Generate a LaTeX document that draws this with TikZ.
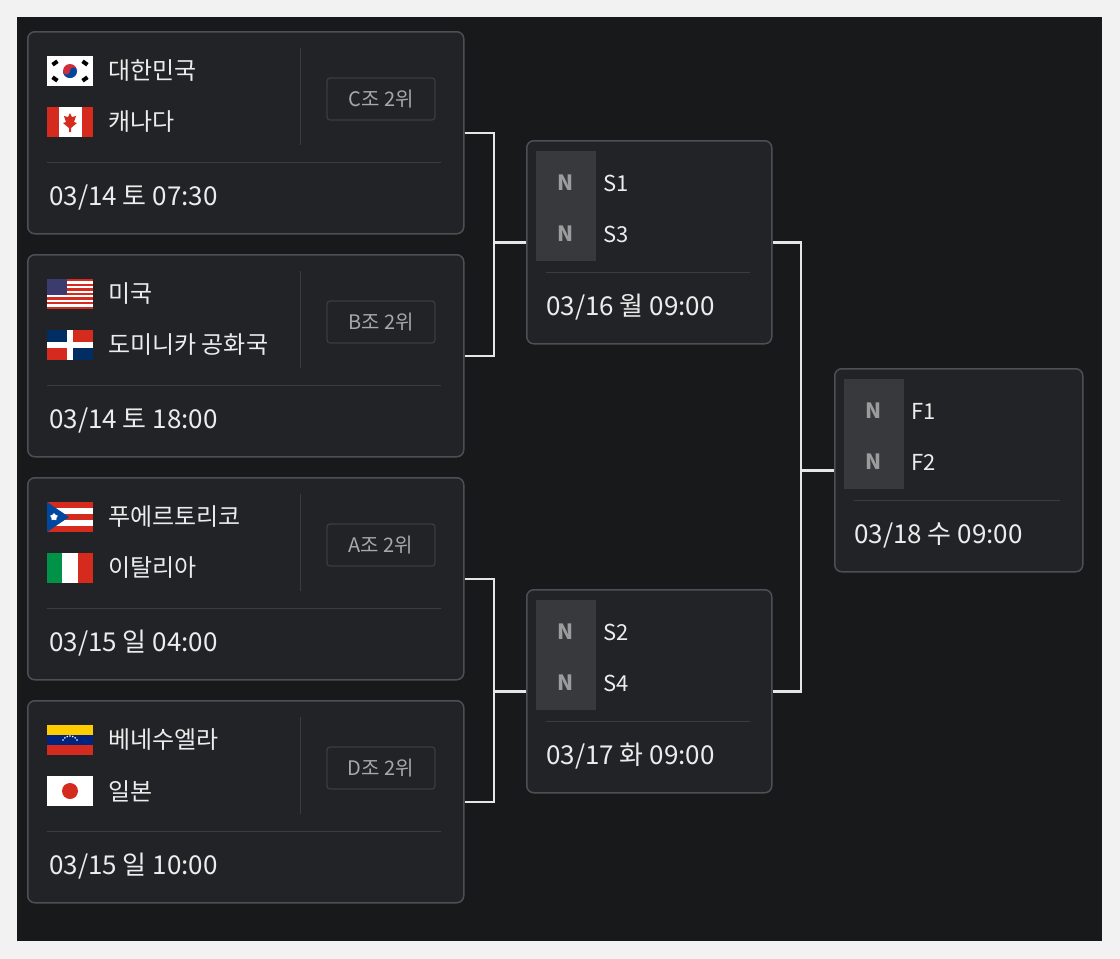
\documentclass[tikz,border=0pt]{standalone}
\usepackage{fontspec}
\newfontfamily\kr{Noto Sans CJK KR}
\usetikzlibrary{shapes.geometric}
\definecolor{pagebg}{HTML}{F2F2F2}
\definecolor{panel}{HTML}{18191B}
\definecolor{boxfill}{HTML}{222326}
\definecolor{boxline}{HTML}{4C4F55}
\definecolor{sepline}{HTML}{3A3C40}
\definecolor{txt}{HTML}{ECECEC}
\definecolor{badgetxt}{HTML}{A8A8A8}
\definecolor{tile}{HTML}{37393D}
\definecolor{ntxt}{HTML}{9C9C9C}
\definecolor{conn}{HTML}{E6E6E6}
\definecolor{krred}{HTML}{CD2E3A}
\definecolor{krblue}{HTML}{0047A0}
\definecolor{flred}{HTML}{D52B1E}
\definecolor{usblue}{HTML}{3C3B6E}
\definecolor{doblue}{HTML}{002D62}
\definecolor{itgreen}{HTML}{009246}
\definecolor{veyel}{HTML}{FFCC00}
\definecolor{veblue}{HTML}{00247D}
\tikzset{
  mbox/.style={draw=boxline,line width=1.5pt,fill=boxfill,rounded corners=7pt,minimum width=436pt,minimum height=202pt,inner sep=0pt},
  sbox/.style={draw=boxline,line width=1.5pt,fill=boxfill,rounded corners=7pt,minimum width=245pt,minimum height=203pt,inner sep=0pt},
  team/.style={anchor=west,text=txt,font=\kr\fontsize{24}{27}\selectfont,inner sep=0pt},
  datet/.style={anchor=west,text=txt,font=\kr\fontsize{26}{29}\selectfont,inner sep=0pt},
  badge/.style={draw=sepline,line width=1.2pt,rounded corners=3pt,minimum width=108pt,minimum height=42pt,text=badgetxt,font=\kr\fontsize{20}{23}\selectfont,inner sep=0pt},
  ntile/.style={fill=tile,minimum width=60pt,minimum height=110pt,inner sep=0pt},
  nlet/.style={text=ntxt,font=\kr\bfseries\fontsize{21}{23}\selectfont,inner sep=0pt},
  slab/.style={anchor=west,text=txt,font=\kr\fontsize{22}{25}\selectfont,inner sep=0pt},
  sep/.style={draw=sepline,line width=1pt},
  connl/.style={draw=conn,line width=2.5pt},
}
\newcommand\flagKR[2]{\begin{scope}[shift={(#1,#2)}]
 \fill[white] (0,0) rectangle (46,30);
 \fill[krred] (23,15) circle (7);
 \fill[krblue] (16,15) arc (180:0:7) -- cycle;
 \fill[krred] (16,15) arc (180:0:3.5) -- cycle;
 \fill[krblue] (23,15) arc (180:360:3.5) -- cycle;
 \fill[black,rotate around={35:(8,7)}] (5,5) rectangle (11,9);
 \fill[black,rotate around={-35:(38,7)}] (35,5) rectangle (41,9);
 \fill[black,rotate around={-35:(8,23)}] (5,21) rectangle (11,25);
 \fill[black,rotate around={35:(38,23)}] (35,21) rectangle (41,25);
\end{scope}}
\newcommand\flagCA[2]{\begin{scope}[shift={(#1,#2)}]
 \fill[white] (0,0) rectangle (46,30);
 \fill[flred] (0,0) rectangle (11.5,30); \fill[flred] (34.5,0) rectangle (46,30);
 \fill[flred] (23,6) -- (25,10) -- (29,9) -- (27,15) -- (30,16) -- (24,21) -- (24,25) -- (22,25) -- (22,21) -- (16,16) -- (19,15) -- (17,9) -- (21,10) -- cycle;
\end{scope}}
\newcommand\flagUS[2]{\begin{scope}[shift={(#1,#2)}]
 \fill[white] (0,0) rectangle (46,30);
 \foreach \i in {0,2,...,12}{\fill[flred] (0,\i*30/13) rectangle (46,\i*30/13+30/13);}
 \fill[usblue] (0,0) rectangle (20,30*7/13);
\end{scope}}
\newcommand\flagDO[2]{\begin{scope}[shift={(#1,#2)}]
 \fill[white] (0,0) rectangle (46,30);
 \fill[doblue] (0,0) rectangle (20,12); \fill[flred] (26,0) rectangle (46,12);
 \fill[flred] (0,18) rectangle (20,30); \fill[doblue] (26,18) rectangle (46,30);
\end{scope}}
\newcommand\flagPR[2]{\begin{scope}[shift={(#1,#2)}]
 \fill[white] (0,0) rectangle (46,30);
 \foreach \i in {0,2,4}{\fill[flred] (0,\i*6) rectangle (46,\i*6+6);}
 \fill[krblue] (0,0) -- (22,15) -- (0,30) -- cycle;
 \node[star,star points=5,fill=white,minimum size=8pt,inner sep=0pt] at (7,15) {};
\end{scope}}
\newcommand\flagIT[2]{\begin{scope}[shift={(#1,#2)}]
 \fill[itgreen] (0,0) rectangle (15.33,30); \fill[white] (15.33,0) rectangle (30.67,30); \fill[flred] (30.67,0) rectangle (46,30);
\end{scope}}
\newcommand\flagVE[2]{\begin{scope}[shift={(#1,#2)}]
 \fill[veyel] (0,0) rectangle (46,10); \fill[veblue] (0,10) rectangle (46,20); \fill[flred] (0,20) rectangle (46,30);
 \foreach \a in {30,50,...,150}{\fill[white] ({23+8*cos(\a)},{19-8*sin(\a)}) circle (0.9);}
\end{scope}}
\newcommand\flagJP[2]{\begin{scope}[shift={(#1,#2)}]
 \fill[white] (0,0) rectangle (46,30); \fill[flred] (23,15) circle (8);
\end{scope}}
\newcommand\matchbox[8]{%
 \node[mbox,anchor=north west] (#1) at (27,#2) {};
 #3{47}{#2+25}
 \node[team] (#1a) at (108,#2+40) {#4};
 #5{47}{#2+76}
 \node[team] (#1b) at (108,#2+91) {#6};
 \draw[sep] (300,#2+17) -- (300,#2+114);
 \node[badge] (#1g) at (381,#2+68) {#7};
 \draw[sep] (47,#2+131) -- (441,#2+131);
 \node[datet] (#1d) at (49,#2+166) {#8};
}
\newcommand\seedbox[6]{%
 \node[sbox,anchor=north west] (#1) at (#2,#3) {};
 \node[ntile,anchor=north west] (#1t) at (#2+10,#3+11) {};
 \node[nlet] at (#2+40,#3+43) {N};
 \node[nlet] at (#2+40,#3+94) {N};
 \node[slab] (#1a) at (#2+77,#3+43) {#4};
 \node[slab] (#1b) at (#2+77,#3+94) {#5};
 \draw[sep] (#2+20,#3+132) -- (#2+224,#3+132);
 \node[datet] (#1d) at (#2+20,#3+167) {#6};
}
\begin{document}
\begin{tikzpicture}[x=1pt,y=-1pt]
\useasboundingbox (0,0) rectangle (1120,959);
\fill[pagebg] (0,0) rectangle (1120,959);
\fill[panel] (17,17) rectangle (1102,941);
\matchbox{m1}{31}{\flagKR}{대한민국}{\flagCA}{캐나다}{C조 2위}{03/14 토 07:30}
\matchbox{m2}{254}{\flagUS}{미국}{\flagDO}{도미니카 공화국}{B조 2위}{03/14 토 18:00}
\matchbox{m3}{477}{\flagPR}{푸에르토리코}{\flagIT}{이탈리아}{A조 2위}{03/15 일 04:00}
\matchbox{m4}{700}{\flagVE}{베네수엘라}{\flagJP}{일본}{D조 2위}{03/15 일 10:00}
\seedbox{s1}{526}{140}{S1}{S3}{03/16 월 09:00}
\seedbox{s2}{526}{589}{S2}{S4}{03/17 화 09:00}
\node[sbox,anchor=north west,minimum width=248pt] (f) at (834,368) {};
\node[ntile,anchor=north west] (ft) at (844,379) {};
\node[nlet] at (874,411) {N};
\node[nlet] at (874,462) {N};
\node[slab] (fa) at (911,411) {F1};
\node[slab] (fb) at (911,462) {F2};
\draw[sep] (854,500) -- (1060,500);
\node[datet] (fd) at (854,535) {03/18 수 09:00};
\coordinate (j1) at ([xshift=-32pt]s1.west);
\coordinate (j2) at ([xshift=-32pt]s2.west);
\coordinate (j3) at ([xshift=-33pt]f.west);
\draw[connl] (m1.east) -| (j1);
\draw[connl] (m2.east) -| (j1);
\draw[connl] (j1) -- (s1.west);
\draw[connl] (m3.east) -| (j2);
\draw[connl] (m4.east) -| (j2);
\draw[connl] (j2) -- (s2.west);
\draw[connl] (s1.east) -| (j3);
\draw[connl] (s2.east) -| (j3);
\draw[connl] (j3) -- (f.west);
\end{tikzpicture}
\end{document}
